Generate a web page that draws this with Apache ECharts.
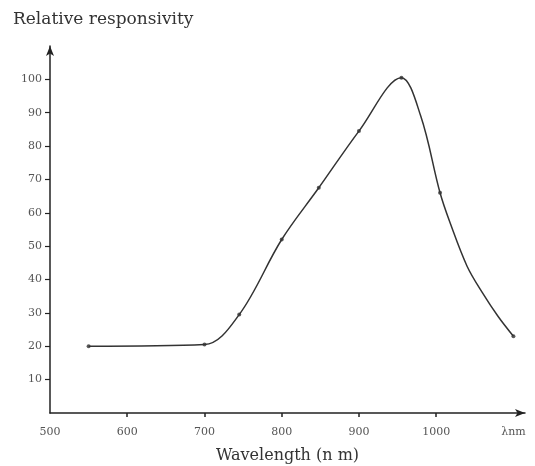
<!DOCTYPE html>
<html>
<head>
<meta charset="utf-8">
<script src="https://cdn.jsdelivr.net/npm/echarts@6/dist/echarts.min.js"></script>
<style>
html,body{margin:0;padding:0;background:#fff;}
#chart{width:535px;height:466px;}
</style>
</head>
<body>
<div id="chart"></div>
<script>
// measured points (dots)
var wavelengths = [550, 700, 745, 800, 848, 900, 955, 1005, 1100];
var responsivity = [20, 20.5, 29.5, 52, 67.5, 84.5, 100.5, 66, 23];
// drawn curve
var curveWavelengths = [550, 700, 745, 800, 848, 900, 955, 980, 1005, 1018, 1040, 1060, 1080, 1100];
var curveResponsivity = [20, 20.5, 29.5, 52, 67.5, 84.5, 100.5, 89, 66, 57, 44, 36, 29, 23];
var xLabelValues = [500, 600, 700, 800, 900, 1000, 1100];
var xTickValues = [600, 700, 800, 900, 1000];
var yTickValues = [10, 20, 30, 40, 50, 60, 70, 80, 90, 100];

var chart = echarts.init(document.getElementById('chart'));
var serif = '"DejaVu Serif", "Liberation Serif", serif';
chart.setOption({
  backgroundColor: '#fff',
  animation: false,
  title: {
    text: 'Relative responsivity',
    left: 8, top: 6,
    textStyle: {fontFamily: serif, fontSize: 17, fontWeight: 'normal', color: '#333'}
  },
  grid: {left: 50, right: 10, top: 46, bottom: 53, containLabel: false, outerBoundsMode: 'none'},
  xAxis: {
    type: 'value', min: 500, max: 1115,
    name: 'Wavelength (n m)', nameLocation: 'middle', nameGap: 35,
    nameTextStyle: {fontFamily: serif, fontSize: 16, color: '#333'},
    axisLine: {show: true, symbol: ['none', 'arrow'], symbolSize: [6, 10], lineStyle: {color: '#222', width: 1.5}},
    axisTick: {show: true, customValues: xTickValues, length: 4, lineStyle: {color: '#222', width: 1.5}},
    axisLabel: {
      customValues: xLabelValues, margin: 14,
      fontFamily: serif, fontSize: 11, color: '#555',
      formatter: function (v) { return v === 1100 ? 'λnm' : String(v); }
    },
    splitLine: {show: false}
  },
  yAxis: {
    type: 'value', min: 0, max: 110,
    axisLine: {show: true, symbol: ['none', 'arrow'], symbolSize: [6, 10], lineStyle: {color: '#222', width: 1.5}},
    axisTick: {show: true, customValues: yTickValues, length: 5, lineStyle: {color: '#222', width: 1.2}},
    axisLabel: {customValues: yTickValues, margin: 8, fontFamily: serif, fontSize: 11, color: '#555'},
    splitLine: {show: false}
  },
  series: [{
    type: 'line',
    data: curveWavelengths.map(function (w, i) { return [w, curveResponsivity[i]]; }),
    smooth: 0.35,
    showSymbol: false,
    lineStyle: {color: '#333', width: 1.5}
  }, {
    type: 'scatter',
    data: wavelengths.map(function (w, i) { return [w, responsivity[i]]; }),
    symbol: 'circle', symbolSize: 4,
    itemStyle: {color: '#333'}
  }]
});
</script>
</body>
</html>
